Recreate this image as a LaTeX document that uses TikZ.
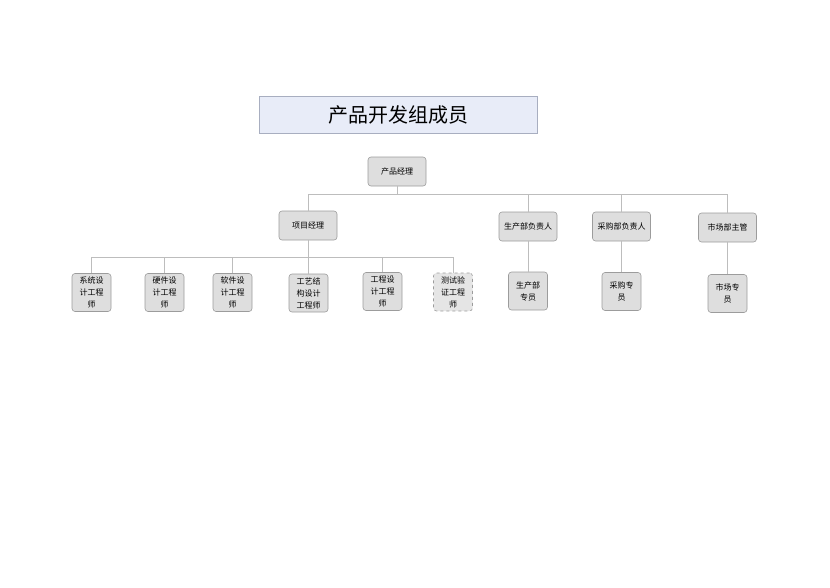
\documentclass[tikz,border=0pt]{standalone}
\usepackage{fontspec}
\setmainfont{Noto Sans CJK SC}
\definecolor{nodefill}{HTML}{DEDEDE}
\definecolor{nodeline}{HTML}{9C9C9C}
\definecolor{linkc}{HTML}{BDBDBD}
\definecolor{titlefill}{HTML}{E8ECF8}
\definecolor{titleline}{HTML}{A8AEC0}
\begin{document}
\begin{tikzpicture}[x=1pt,y=-1pt,
  box/.style={draw=nodeline, line width=0.6pt, fill=nodefill, rounded corners=3pt, inner sep=0pt, align=center, font=\fontsize{8}{12}\selectfont},
  mid/.style={box, minimum width=58pt, minimum height=29pt},
  leaf/.style={box, minimum width=39pt, minimum height=38pt},
  link/.style={draw=linkc, line width=0.6pt}]
\useasboundingbox (0,0) rectangle (830,587);
\node[draw=titleline, fill=titlefill, line width=0.6pt, minimum width=278pt, minimum height=37pt, inner sep=0pt, font=\fontsize{20}{20}\selectfont] (title) at (398,114.5) {产品开发组成员};
\node[mid] (pm) at (397,171.5) {产品经理};
\coordinate (bus1) at (0,194);
\coordinate (bus2) at (0,257);
\node[mid] (proj) at (308,225.5) {项目经理};
\node[mid] (prod) at (528,226.5) {生产部负责人};
\node[mid] (purc) at (621.5,226.5) {采购部负责人};
\node[mid] (mark) at (727.5,227.5) {市场部主管};
\node[leaf] (c1) at (91.5,292.5) {系统设\\计工程\\师};
\node[leaf] (c2) at (164.5,292.5) {硬件设\\计工程\\师};
\node[leaf] (c3) at (232.5,292.5) {软件设\\计工程\\师};
\node[leaf] (c4) at (308.5,293) {工艺结\\构设计\\工程师};
\node[leaf] (c5) at (382.5,291.5) {工程设\\计工程\\师};
\node[leaf, dashed, fill=nodefill!80] (c6) at (453,292) {测试验\\证工程\\师};
\node[leaf] (d1) at (528,291) {生产部\\专员};
\node[leaf] (d2) at (621.5,291.5) {采购专\\员};
\node[leaf] (d3) at (727.5,293.5) {市场专\\员};
\foreach \n in {proj,prod,purc,mark}
  \draw[link] (pm.south) -- (pm.south |- bus1) -| (\n.north);
\foreach \n in {c1,c2,c3,c4,c5,c6}
  \draw[link] (proj.south) -- (proj.south |- bus2) -| (\n.north);
\draw[link] (prod.south) -- (d1.north);
\draw[link] (purc.south) -- (d2.north);
\draw[link] (mark.south) -- (d3.north);
\end{tikzpicture}
\end{document}
